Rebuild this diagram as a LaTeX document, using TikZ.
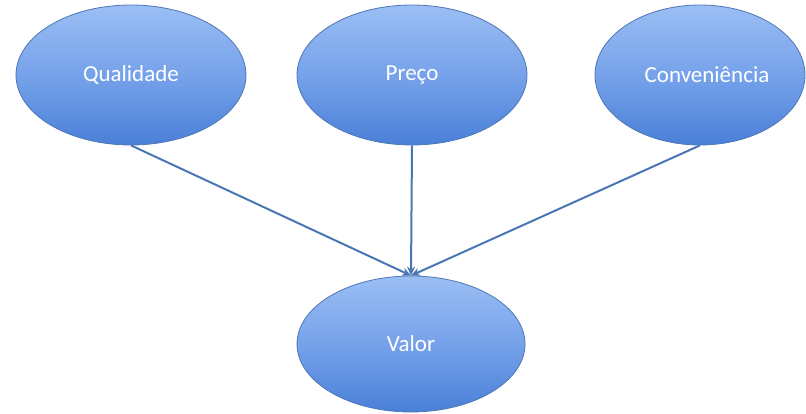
\documentclass[tikz,border=0pt]{standalone}
\usepackage{fontspec}
\setmainfont{Carlito}
\usetikzlibrary{shapes.geometric,arrows.meta}
\definecolor{elltop}{HTML}{9BBEF4}
\definecolor{ellmid}{HTML}{76A2EA}
\definecolor{ellbot}{HTML}{4A80D8}
\definecolor{ellborder}{HTML}{4E77B5}
\definecolor{conncol}{HTML}{4A76B6}
\tikzset{
  bubble/.style={ellipse, draw=ellborder, line width=0.8pt, top color=elltop, bottom color=ellbot, middle color=ellmid,
    minimum width=230pt, minimum height=140pt, inner sep=0pt, text=white,
    font=\fontsize{23}{27}\selectfont},
  conn/.style={draw=conncol, line width=2pt, -{Stealth[length=9pt,width=8pt]}}
}
\begin{document}
\begin{tikzpicture}[x=1pt,y=-1pt]
\useasboundingbox (0,0) rectangle (806,414);
\node[bubble] (q) at (131,75) {Qualidade};
\node[bubble] (p) at (412,75) {Preço};
\node[bubble, minimum width=210pt] (c) at (700,75) {\hspace*{14pt}Conveniência};
\node[bubble, minimum width=228pt, minimum height=136pt] (v) at (411,344) {Valor};
\draw[conn] (q.south) -- (v.north);
\draw[conn] (p.south) -- (v.north);
\draw[conn] (c.south) -- (v.north);
\end{tikzpicture}
\end{document}
